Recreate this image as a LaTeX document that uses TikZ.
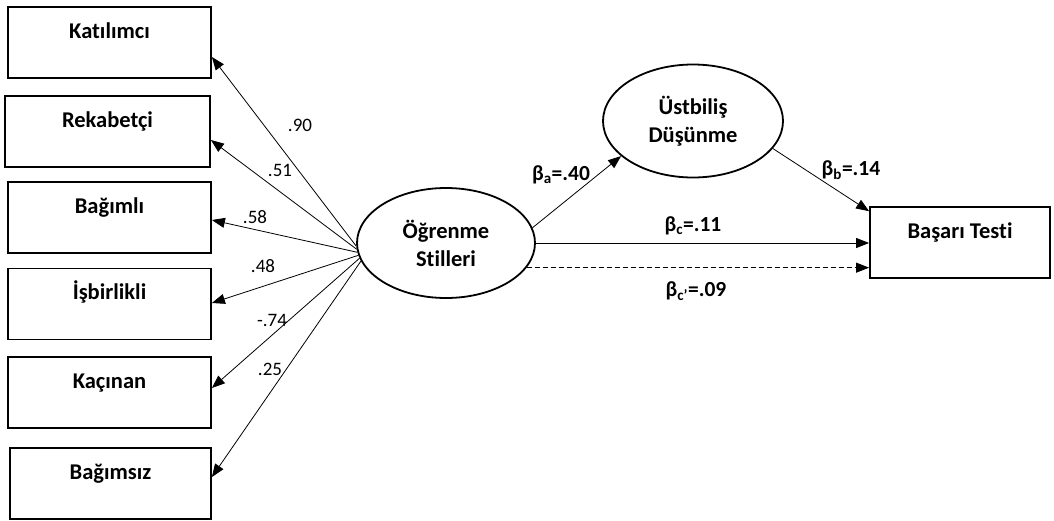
\documentclass[tikz,border=0pt]{standalone}
\usepackage{fontspec}
\setmainfont{Carlito}[Ligatures=NoCommon]
\usetikzlibrary{shapes.geometric,arrows.meta}
\begin{document}
\begin{tikzpicture}[x=1pt,y=-1pt,
  box/.style={draw,line width=1.8pt,rectangle,minimum width=203pt,minimum height=71pt,inner sep=0pt,
    font=\fontsize{22.5}{26}\selectfont\bfseries,text height=16pt,text depth=25pt},
  ell/.style={draw,line width=1.8pt,ellipse,inner sep=0pt,align=center,
    font=\fontsize{22.5}{28}\selectfont\bfseries},
  arr/.style={line width=0.8pt,-{Triangle[length=13pt,width=10pt]}},
  num/.style={font=\fontsize{19}{22}\selectfont},
  beta/.style={font=\fontsize{21.5}{24}\selectfont\bfseries}
]
\useasboundingbox (0,0) rectangle (1054,520);
\node[box] (k1) at (109.5,42.5) {Katılımcı};
\node[box,minimum width=205pt] (k2) at (107.5,131.5) {Rekabetçi};
\node[box] (k3) at (109.5,217.5) {Bağımlı};
\node[box] (k4) at (109.5,304) {İşbirlikli};
\node[box] (k5) at (109.5,392.5) {Kaçınan};
\node[box,minimum width=201pt] (k6) at (110.5,483.5) {Bağımsız};
\node[ell,minimum width=178pt,minimum height=110pt] (s) at (446,243) {Öğrenme\\Stilleri};
\node[ell,minimum width=180pt,minimum height=113pt] (u) at (693,121) {Üstbiliş\\Düşünme};
\node[box,minimum width=180pt] (b) at (960,242.5) {Başarı Testi};

\draw[arr] (s.182) -- (k1.east |- 0,57) ;
\draw[arr] (s.184) -- (k2.east |- 0,140);
\draw[arr] (s.186) -- (k3.east |- 0,220);
\draw[arr] (s.188) -- (k4.east |- 0,303);
\draw[arr] (s.190) -- (k5.east |- 0,388);
\draw[arr] (s.192) -- (k6.east |- 0,477);

\node[num] (n1) at (300,125) {.90};
\node[num] (n2) at (280,170) {.51};
\node[num] (n3) at (255,217) {.58};
\node[num] (n4) at (263,266) {.48};
\node[num] (n5) at (272,320) {-.74};
\node[num] (n6) at (270,369) {.25};

\draw[arr] (s.10) -- (u.206);
\draw[arr] (u.-19) -- (b.161);
\draw[arr] (s.east) -- (s.east -| b.west);
\draw[arr,dashed,dash pattern=on 5pt off 3pt] (s.-17) -- (s.-17 -| b.west);

\node[beta] (la) at (561,175) {β\textsubscript{a}=.40};
\node[beta] (lb) at (851,170) {β\textsubscript{b}=.14};
\node[beta] (lc) at (693,226) {β\textsubscript{c}=.11};
\node[beta] (ld) at (696,291) {β\textsubscript{c'}=.09};
\end{tikzpicture}
\end{document}
